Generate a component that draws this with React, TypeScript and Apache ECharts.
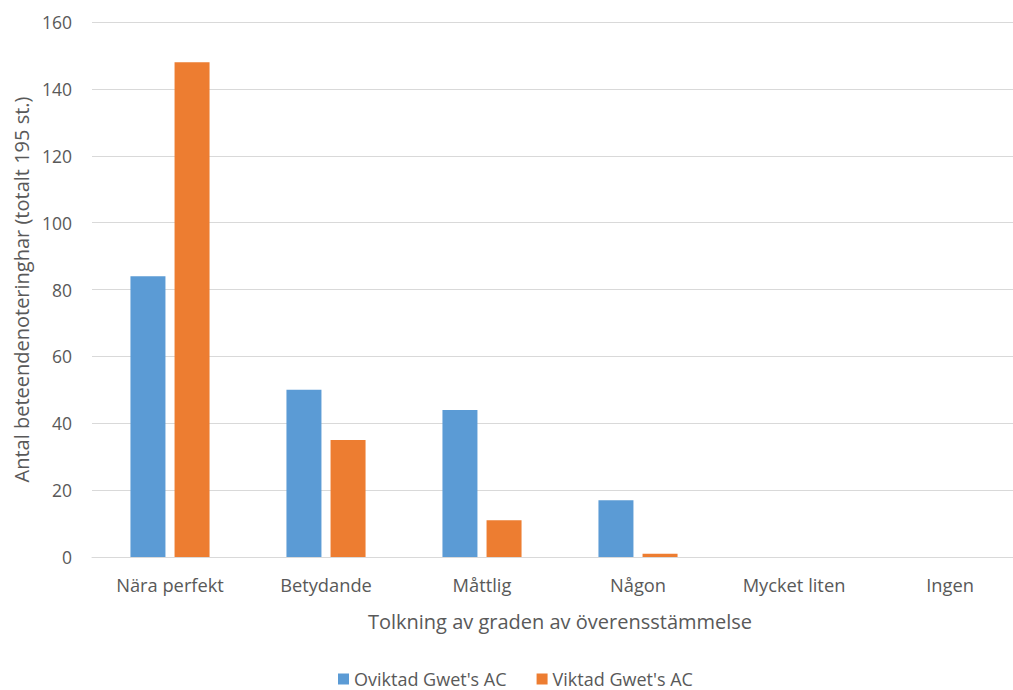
import React, { useEffect, useRef } from "react";
import * as echarts from "echarts";

const categories = ["Nära perfekt", "Betydande", "Måttlig", "Någon", "Mycket liten", "Ingen"];
const unweighted = [84, 50, 44, 17, 0, 0];
const weighted = [148, 35, 11, 1, 0, 0];
const seriesNames = ["Oviktad Gwet's AC", "Viktad Gwet's AC"];
const xAxisTitle = "Tolkning av graden av överensstämmelse";
const yAxisTitle = "Antal beteendenoteringhar (totalt 195 st.)";

const FONT = "'Open Sans', sans-serif";
const TEXT = "#595959";

export default function App() {
  const ref = useRef<HTMLDivElement>(null);

  useEffect(() => {
    if (!ref.current) return;
    const chart = echarts.init(ref.current, undefined, { renderer: "svg" });
    chart.setOption({
      animation: false,
      backgroundColor: "#ffffff",
      textStyle: { fontFamily: FONT },
      // the plot runs a little past the visible right edge
      grid: { left: 92, top: 22, right: 0, bottom: 133 },
      legend: {
        top: 664,
        left: 333,
        itemWidth: 11,
        itemHeight: 11,
        itemGap: 30,
        icon: "rect",
        textStyle: { color: TEXT, fontSize: 18, lineHeight: 20, fontFamily: FONT },
        data: seriesNames,
      },
      xAxis: {
        type: "category",
        data: categories,
        name: xAxisTitle,
        nameLocation: "middle",
        nameGap: 54,
        nameTextStyle: { color: TEXT, fontSize: 20, fontFamily: FONT },
        axisLine: { lineStyle: { color: "#D9D9D9" } },
        axisTick: { show: false },
        axisLabel: { color: TEXT, fontSize: 18.3, margin: 18, fontFamily: FONT },
      },
      yAxis: {
        type: "value",
        min: 0,
        max: 160,
        interval: 20,
        name: yAxisTitle,
        nameLocation: "middle",
        nameGap: 60,
        nameTextStyle: { color: TEXT, fontSize: 20, fontFamily: FONT },
        axisLine: { show: false },
        axisTick: { show: false },
        axisLabel: { color: TEXT, fontSize: 17.5, margin: 20, fontFamily: FONT },
        splitLine: { lineStyle: { color: "#D9D9D9", width: 1 } },
      },
      series: [
        {
          name: seriesNames[0],
          type: "bar",
          data: unweighted,
          barWidth: 35,
          barGap: "26%",
          itemStyle: { color: "#5B9BD5" },
        },
        {
          name: seriesNames[1],
          type: "bar",
          data: weighted,
          barWidth: 35,
          itemStyle: { color: "#ED7D31" },
        },
      ],
    });
    return () => chart.dispose();
  }, []);

  return (
    <div style={{ position: "fixed", left: 0, top: 0, width: 1013, height: 690, overflow: "hidden", background: "#fff" }}>
      <div ref={ref} style={{ width: 1028, height: 690 }} />
    </div>
  );
}
